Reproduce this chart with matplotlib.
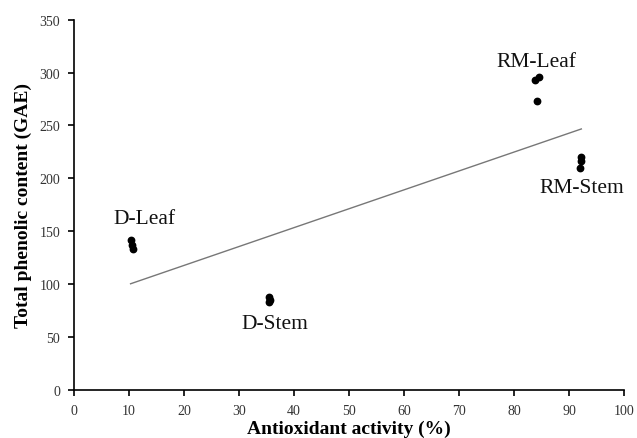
import matplotlib
matplotlib.use("Agg")
import matplotlib.pyplot as plt
import numpy as np

# Data
groups = ["D-Leaf", "D-Stem", "RM-Leaf", "RM-Stem"]
x_dleaf = [10.3, 10.6, 10.8]
y_dleaf = [142, 137, 133]
x_dstem = [35.4, 35.6, 35.5]
y_dstem = [88, 85, 83]
x_rmleaf = [83.7, 84.5, 84.2]
y_rmleaf = [293, 296, 273]
x_rmstem = [92.1, 92.2, 92.0]
y_rmstem = [220, 216, 210]

label_x = [12.9, 36.5, 84.0, 92.2]
label_y = [162, 63, 310, 191]

x_ticks = list(range(0, 101, 10))
y_ticks = list(range(0, 351, 50))

plt.rcParams['font.family'] = ['Liberation Serif', 'DejaVu Serif']

fig = plt.figure(figsize=(6.37, 4.39), dpi=100)
ax = fig.add_axes([0.116, 0.109, 0.864, 0.844])

xs = [x_dleaf, x_dstem, x_rmleaf, x_rmstem]
ys = [y_dleaf, y_dstem, y_rmleaf, y_rmstem]
for xv, yv in zip(xs, ys):
    ax.plot(xv, yv, 'o', color='black', markersize=4.6, zorder=3)

allx = np.concatenate([np.array(v) for v in xs])
ally = np.concatenate([np.array(v) for v in ys])
m, b = np.polyfit(allx, ally, 1)
lx = np.array([allx.min(), allx.max()])
ax.plot(lx, m * lx + b, color='#777777', linewidth=1.0, zorder=2)

for g, tx, ty in zip(groups, label_x, label_y):
    ax.text(tx, ty, g, ha='center', va='center', fontsize=15.5, color='#111111')

ax.set_xlim(0, 100)
ax.set_ylim(0, 350)
ax.set_xticks(x_ticks)
ax.set_yticks(y_ticks)
ax.spines['top'].set_visible(False)
ax.spines['right'].set_visible(False)
for s in ['left', 'bottom']:
    ax.spines[s].set_linewidth(1.2)
ax.tick_params(direction='out', length=4, width=1.2, labelsize=10, labelcolor='#333333', pad=6)
ax.set_xlabel('Antioxidant activity (%)', fontsize=14, fontweight='bold', labelpad=2)
ax.set_ylabel('Total phenolic content (GAE)', fontsize=14, fontweight='bold', labelpad=5)

fig.savefig('out.png', dpi=100)
